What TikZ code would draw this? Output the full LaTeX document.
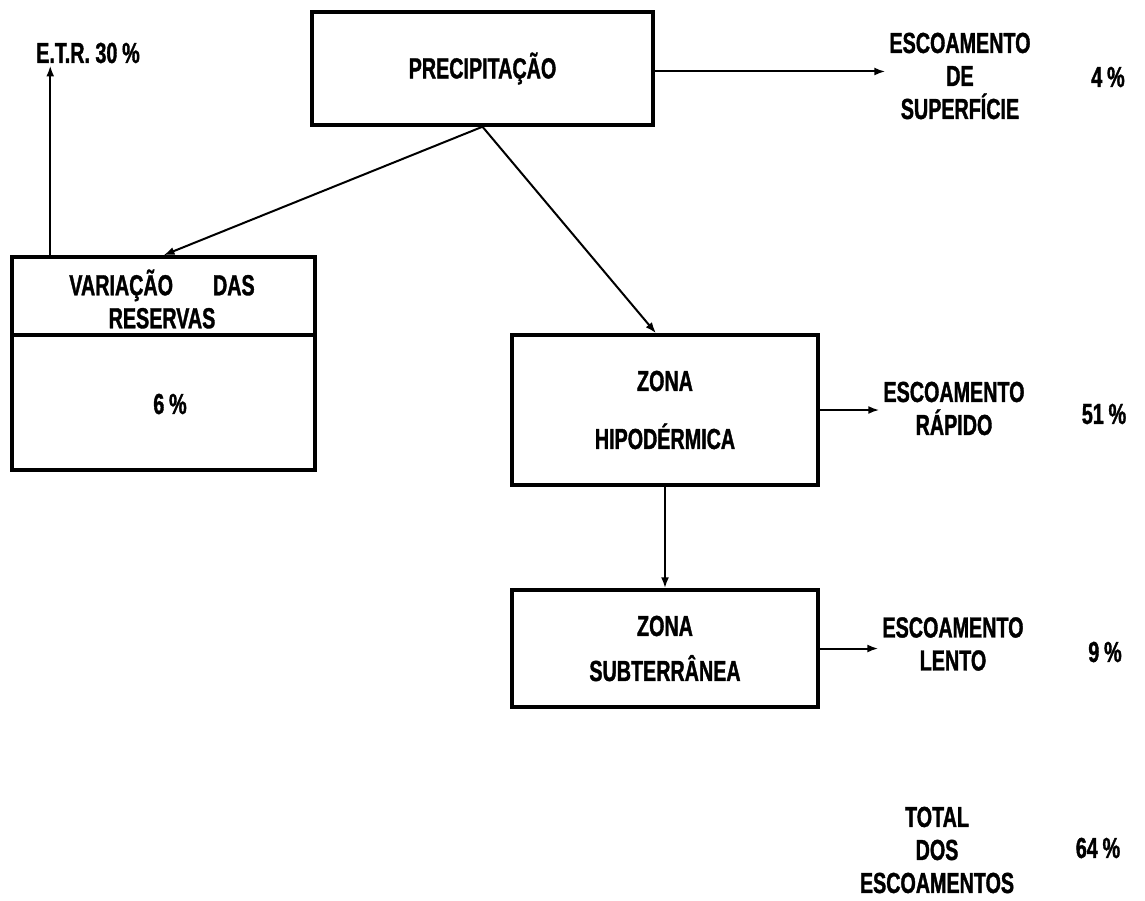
\documentclass[tikz,border=0pt]{standalone}
\usepackage{fontspec}
\newfontfamily\stencil[FakeStretch=0.68,FakeBold=1.2]{Liberation Sans}
\usetikzlibrary{arrows.meta}
\begin{document}
\begin{tikzpicture}[x=1pt,y=-1pt,
  box/.style={draw, line width=3.5pt, rectangle, inner sep=0pt},
  lbl/.style={font=\stencil\bfseries\fontsize{29}{33}\selectfont, align=center, inner sep=4pt},
  arr/.style={line width=2pt, -{Latex[length=11pt,width=8pt]}}]
\useasboundingbox (0,0) rectangle (1145,901);
\fill[white] (0,0) rectangle (1145,901);

% boxes
\node[box, lbl, minimum width=341pt, minimum height=113pt] (precip) at (482.5,68.5) {PRECIPITAÇÃO};
\node[box, minimum width=303pt, minimum height=213pt] (var) at (163.5,363.5) {};
\node[box, lbl, minimum width=306pt, minimum height=150pt] (hipo) at (665,410) {ZONA\\[25pt]HIPODÉRMICA};
\node[box, lbl, minimum width=306pt, minimum height=117pt] (sub) at (665,648.5) {ZONA\\[12pt]SUBTERRÂNEA};

% reserves box: header, divider and value
\coordinate (dv) at (0,335);
\draw[line width=3.5pt] (var.west |- dv) -- (var.east |- dv);
\node[lbl] (vart) at (162,299) {VARIAÇÃO\hspace{40pt}DAS\\RESERVAS};
\node[lbl] (varp) at (170,404) {6\,\%};

% side labels
\node[lbl, inner sep=2pt] (etr) at (88,53) {E.T.R. 30\,\%};
\node[lbl] (sup) at (960,76) {ESCOAMENTO\\DE\\SUPERFÍCIE};
\node[lbl] (rap) at (954,408.5) {ESCOAMENTO\\RÁPIDO};
\node[lbl] (len) at (953,644) {ESCOAMENTO\\LENTO};
\node[lbl] (tot) at (937,850) {TOTAL\\DOS\\ESCOAMENTOS};

% percentages
\node[lbl] (p4) at (1108,77) {4\,\%};
\node[lbl] (p51) at (1104,414) {51\,\%};
\node[lbl] (p9) at (1105,652) {9\,\%};
\node[lbl] (p64) at (1098,848) {64\,\%};

% flows
\coordinate (sa) at ([yshift=-3pt]precip.east);
\draw[arr] (sa) -- (sa -| sup.west);
\draw[arr] (precip.south) -- (var.north);
\draw[arr] (precip.south) -- ([xshift=-9pt]hipo.north);
\draw[arr] (hipo.south) -- (sub.north);
\draw[arr] (hipo.east) -- (hipo.east -| rap.west);
\draw[arr] (sub.east) -- (sub.east -| len.west);
\coordinate (vu) at ([xshift=40pt]var.north west);
\draw[arr] (vu) -- (vu |- etr.south);
\end{tikzpicture}
\end{document}
